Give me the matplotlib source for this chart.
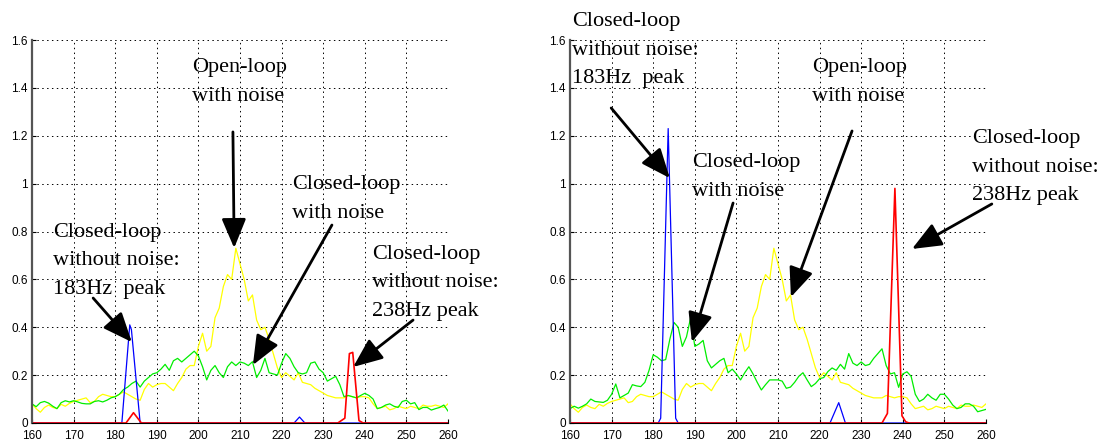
import numpy as np
import matplotlib
matplotlib.use("Agg")
import matplotlib.pyplot as plt
from matplotlib.ticker import FormatStrFormatter

# frequency axis, 1 Hz steps
freq = np.arange(160, 261)

# open-loop with noise (same run in both panels)
open_loop = [0.08, 0.06, 0.045, 0.065, 0.075, 0.065, 0.06, 0.078, 0.07, 0.082,
             0.09, 0.095, 0.10, 0.105, 0.085, 0.09, 0.11, 0.12, 0.115, 0.11,
             0.11, 0.12, 0.13, 0.12, 0.11, 0.10, 0.095, 0.14, 0.165, 0.15,
             0.16, 0.165, 0.165, 0.15, 0.135, 0.165, 0.19, 0.225, 0.24, 0.24,
             0.32, 0.375, 0.30, 0.32, 0.44, 0.48, 0.57, 0.62, 0.60, 0.73,
             0.665, 0.60, 0.51, 0.535, 0.43, 0.39, 0.40, 0.35, 0.29, 0.23,
             0.19, 0.21, 0.195, 0.18, 0.21, 0.17, 0.165, 0.16, 0.145, 0.135,
             0.125, 0.115, 0.11, 0.105, 0.105, 0.105, 0.115, 0.11, 0.105, 0.11,
             0.11, 0.105, 0.08, 0.06, 0.065, 0.07, 0.055, 0.06, 0.07, 0.065,
             0.06, 0.07, 0.065, 0.06, 0.075, 0.07, 0.07, 0.075, 0.07, 0.065,
             0.08]

# closed-loop with noise, first run
closed_noise_a = [0.08, 0.068, 0.085, 0.09, 0.083, 0.07, 0.06, 0.085, 0.093, 0.088,
                  0.093, 0.088, 0.082, 0.08, 0.08, 0.09, 0.093, 0.088, 0.095, 0.105,
                  0.11, 0.12, 0.14, 0.15, 0.165, 0.175, 0.15, 0.175, 0.19, 0.205,
                  0.21, 0.225, 0.245, 0.22, 0.26, 0.27, 0.255, 0.27, 0.285, 0.30,
                  0.28, 0.235, 0.18, 0.22, 0.24, 0.21, 0.19, 0.235, 0.255, 0.24,
                  0.255, 0.25, 0.24, 0.256, 0.19, 0.22, 0.27, 0.21, 0.205, 0.20,
                  0.25, 0.29, 0.27, 0.235, 0.21, 0.205, 0.21, 0.25, 0.255, 0.225,
                  0.21, 0.175, 0.185, 0.195, 0.16, 0.11, 0.115, 0.11, 0.105, 0.115,
                  0.124, 0.115, 0.10, 0.06, 0.065, 0.075, 0.08, 0.07, 0.065, 0.09,
                  0.095, 0.08, 0.085, 0.056, 0.065, 0.065, 0.054, 0.06, 0.065, 0.075,
                  0.05]

# closed-loop with noise, second run
closed_noise_b = [0.06, 0.07, 0.062, 0.07, 0.08, 0.10, 0.09, 0.088, 0.086, 0.095,
                  0.12, 0.163, 0.105, 0.115, 0.125, 0.16, 0.155, 0.152, 0.17, 0.22,
                  0.285, 0.275, 0.26, 0.265, 0.35, 0.42, 0.40, 0.32, 0.36, 0.44,
                  0.32, 0.33, 0.345, 0.26, 0.23, 0.245, 0.26, 0.27, 0.21, 0.225,
                  0.205, 0.18, 0.21, 0.235, 0.205, 0.17, 0.138, 0.16, 0.18, 0.18,
                  0.18, 0.175, 0.145, 0.15, 0.17, 0.195, 0.21, 0.18, 0.152, 0.165,
                  0.185, 0.19, 0.215, 0.23, 0.22, 0.245, 0.225, 0.29, 0.25, 0.24,
                  0.255, 0.24, 0.245, 0.27, 0.29, 0.31, 0.24, 0.205, 0.21, 0.149,
                  0.205, 0.214, 0.195, 0.12, 0.09, 0.10, 0.12, 0.105, 0.095, 0.12,
                  0.12, 0.10, 0.075, 0.06, 0.065, 0.08, 0.08, 0.07, 0.047, 0.052,
                  0.057]

# closed-loop without noise, 183 Hz mode (blue) and 238 Hz mode (red)
blue_f_a = [160, 181.6, 183.5, 183.9, 186.0, 223.0, 224.3, 225.6, 260]
blue_v_a = [0, 0, 0.41, 0.39, 0, 0, 0.025, 0, 0]
red_f_a = [160, 182.6, 184.4, 186.3, 233.5, 235.2, 236.3, 237.1, 238.6, 239.6, 260]
red_v_a = [0, 0, 0.043, 0, 0, 0.02, 0.29, 0.295, 0.01, 0, 0]

blue_f_b = [160, 181.2, 181.8, 183.6, 185.4, 186.0, 222.5, 224.6, 226.2, 260]
blue_v_b = [0, 0, 0.02, 1.23, 0.02, 0, 0, 0.085, 0, 0]
red_f_b = [160, 235.0, 236.3, 238.1, 239.8, 240.7, 241.5, 260]
red_v_b = [0, 0, 0.04, 0.98, 0.03, 0.005, 0, 0]

xticks = np.arange(160, 261, 10)
yticks = np.arange(0, 1.61, 0.2)

serif = "Liberation Serif"
fig = plt.figure(figsize=(10.98, 4.45), dpi=100)
ax1 = fig.add_axes([0.02914, 0.04944, 0.37887, 0.86067])
ax2 = fig.add_axes([0.51913, 0.04944, 0.37887, 0.86067])

panels = [
    (ax1, closed_noise_a, blue_f_a, blue_v_a, red_f_a, red_v_a),
    (ax2, closed_noise_b, blue_f_b, blue_v_b, red_f_b, red_v_b),
]
for ax, green, bf, bv, rf, rv in panels:
    ax.plot(freq, open_loop, color="#ffff00", lw=0.9)
    ax.plot(freq, green, color="#00ee00", lw=0.9)
    ax.plot(bf, bv, color="#0000ff", lw=0.9)
    ax.plot(rf, rv, color="#ff0000", lw=1.2)
    ax.set_xlim(160, 260)
    ax.set_ylim(0, 1.6)
    ax.set_xticks(xticks)
    ax.set_yticks(yticks)
    ax.yaxis.set_major_formatter(FormatStrFormatter("%g"))
    ax.grid(True, color="black", linestyle=(0, (1.5, 3.5)), linewidth=0.7)
    ax.tick_params(direction="in", length=3, labelsize=8.5)
    ax.tick_params(axis="x", pad=5)
    ax.tick_params(axis="y", pad=3)
    for lab in ax.get_xticklabels() + ax.get_yticklabels():
        lab.set_family("Liberation Sans")
    ax.spines["top"].set_visible(False)
    ax.spines["right"].set_visible(False)
    ax.spines["left"].set_color("#555555")
    ax.spines["left"].set_linewidth(1.6)
    ax.set_axisbelow(True)

arrow = dict(arrowstyle="-|>,head_length=1.8,head_width=0.75", mutation_scale=10,
             color="black", lw=2, shrinkA=0, shrinkB=0)
txt = dict(fontsize=16, family=serif, ha="left", va="center", linespacing=1.68)


def note(ax, text, pos, tail, tip):
    ax.text(pos[0], pos[1], text, clip_on=False, **txt)
    ax.annotate("", xy=tip, xytext=tail, arrowprops=arrow, annotation_clip=False)


note(ax1, "Open-loop\nwith noise", (198.5, 1.424), (208.3, 1.216), (208.6, 0.731))
note(ax1, "Closed-loop\nwithout noise:\n183Hz  peak", (165.0, 0.677),
     (174.7, 0.522), (184.0, 0.338))
note(ax1, "Closed-loop\nwith noise", (222.5, 0.936), (232.1, 0.827), (213.1, 0.242))
note(ax1, "Closed-loop\nwithout noise:\n238Hz peak", (241.7, 0.585),
     (251.6, 0.430), (237.2, 0.234))

note(ax2, "Closed-loop\nwithout noise:\n183Hz  peak", (160.5, 1.558),
     (169.9, 1.316), (184.0, 1.023))
note(ax2, "Closed-loop\nwith noise", (189.3, 1.028), (199.2, 0.919), (189.3, 0.338))
note(ax2, "Open-loop\nwith noise", (218.2, 1.424), (227.8, 1.220), (213.1, 0.526))
note(ax2, "Closed-loop\nwithout noise:\n238Hz peak", (256.6, 1.069),
     (261.4, 0.915), (242.2, 0.727))

fig.savefig("out.png", dpi=100)
